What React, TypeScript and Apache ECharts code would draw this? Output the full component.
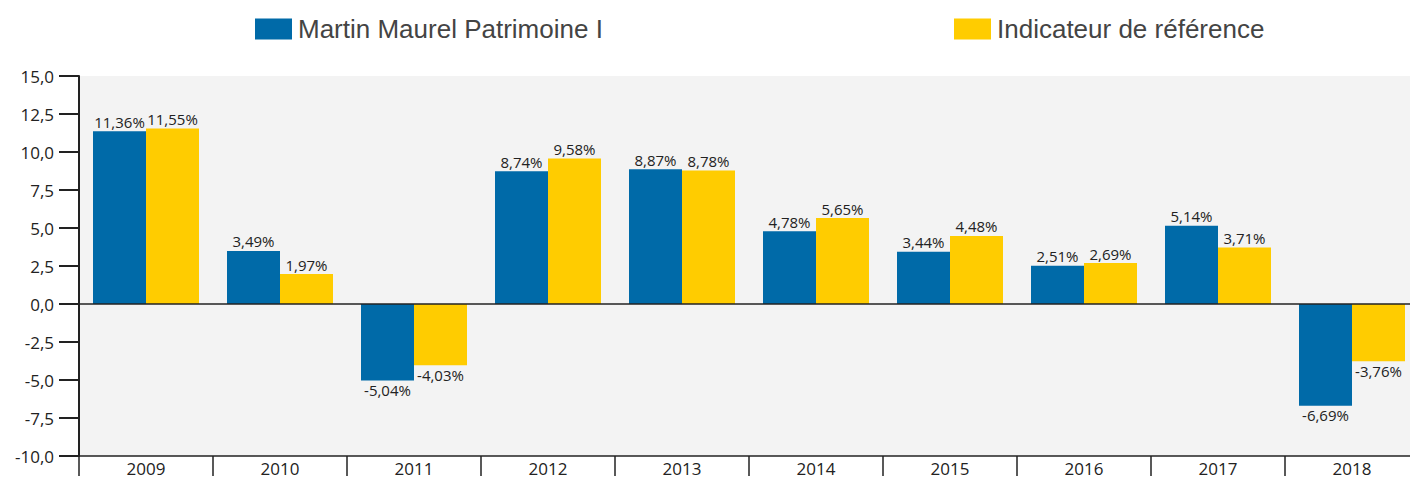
import React, { useEffect, useRef } from "react";
import * as echarts from "echarts";

const categories = ["2009", "2010", "2011", "2012", "2013", "2014", "2015", "2016", "2017", "2018"];
const fundValues = [11.36, 3.49, -5.04, 8.74, 8.87, 4.78, 3.44, 2.51, 5.14, -6.69];
const refValues = [11.55, 1.97, -4.03, 9.58, 8.78, 5.65, 4.48, 2.69, 3.71, -3.76];
const seriesNames = ["Martin Maurel Patrimoine I", "Indicateur de référence"];
const yTicks = { min: -10, max: 15, interval: 2.5 };

const fmtPct = (v: number) => v.toFixed(2).replace(".", ",") + "%";
const fmtAxis = (v: number) => v.toFixed(1).replace(".", ",");

export default function App() {
  const ref = useRef<HTMLDivElement>(null);
  useEffect(() => {
    if (!ref.current) return;
    const chart = echarts.init(ref.current, null, { renderer: "svg" });
    const labelCommon = {
      show: true,
      color: "#222",
      fontSize: 15,
      fontFamily: "Open Sans",
      distance: 2,
    };
    const mkData = (arr: number[]) =>
      arr.map((v) => ({
        value: v,
        label: { position: v >= 0 ? "top" : "bottom" },
      }));
    const legendCommon = {
      top: 16,
      padding: 0,
      itemWidth: 37,
      itemHeight: 21,
      itemGap: 0,
      icon: "rect",
      textStyle: { fontSize: 26, color: "#444", fontFamily: "Liberation Sans", padding: [0, 0, 0, 1] },
      selectedMode: false,
    };
    chart.setOption({
      animation: false,
      legend: [
        { ...legendCommon, data: [seriesNames[0]], left: 255 },
        { ...legendCommon, data: [seriesNames[1]], left: 954 },
      ],
      grid: {
        left: 79,
        top: 76,
        width: 1340,
        height: 380,
        show: true,
        backgroundColor: "#f3f3f3",
        borderWidth: 0,
        outerBoundsMode: "none",
        containLabel: false,
      },
      xAxis: {
        type: "category",
        data: categories,
        boundaryGap: true,
        axisLine: { onZero: false, lineStyle: { color: "#222", width: 1.5 } },
        axisTick: { show: true, length: 20, inside: false, lineStyle: { color: "#222", width: 1.5 } },
        axisLabel: { color: "#222", fontSize: 17, fontFamily: "Open Sans", margin: 4 },
      },
      yAxis: {
        type: "value",
        min: yTicks.min,
        max: yTicks.max,
        interval: yTicks.interval,
        axisLine: { show: true, lineStyle: { color: "#222", width: 2 } },
        axisTick: { show: true, length: 20, lineStyle: { color: "#222", width: 2 } },
        axisLabel: { color: "#222", fontSize: 17, fontFamily: "Open Sans", margin: 25, formatter: fmtAxis },
        splitLine: { show: false },
      },
      series: [
        {
          name: seriesNames[0],
          type: "bar",
          data: mkData(fundValues),
          barWidth: 53,
          barGap: "0%",
          itemStyle: { color: "#006aa8" },
          label: { ...labelCommon, formatter: (p: any) => fmtPct(p.value) },
          markLine: {
            silent: true,
            symbol: "none",
            label: { show: false },
            lineStyle: { color: "#222", width: 1.5, type: "solid" },
            data: [{ yAxis: 0 }],
          },
        },
        {
          name: seriesNames[1],
          type: "bar",
          data: mkData(refValues),
          barWidth: 53,
          barGap: "0%",
          itemStyle: { color: "#ffcc00" },
          label: { ...labelCommon, formatter: (p: any) => fmtPct(p.value) },
        },
      ],
    });
    return () => chart.dispose();
  }, []);
  return (
    <div
      ref={ref}
      style={{ position: "fixed", left: 0, top: 0, width: 1410, height: 479, background: "#fff" }}
    />
  );
}
